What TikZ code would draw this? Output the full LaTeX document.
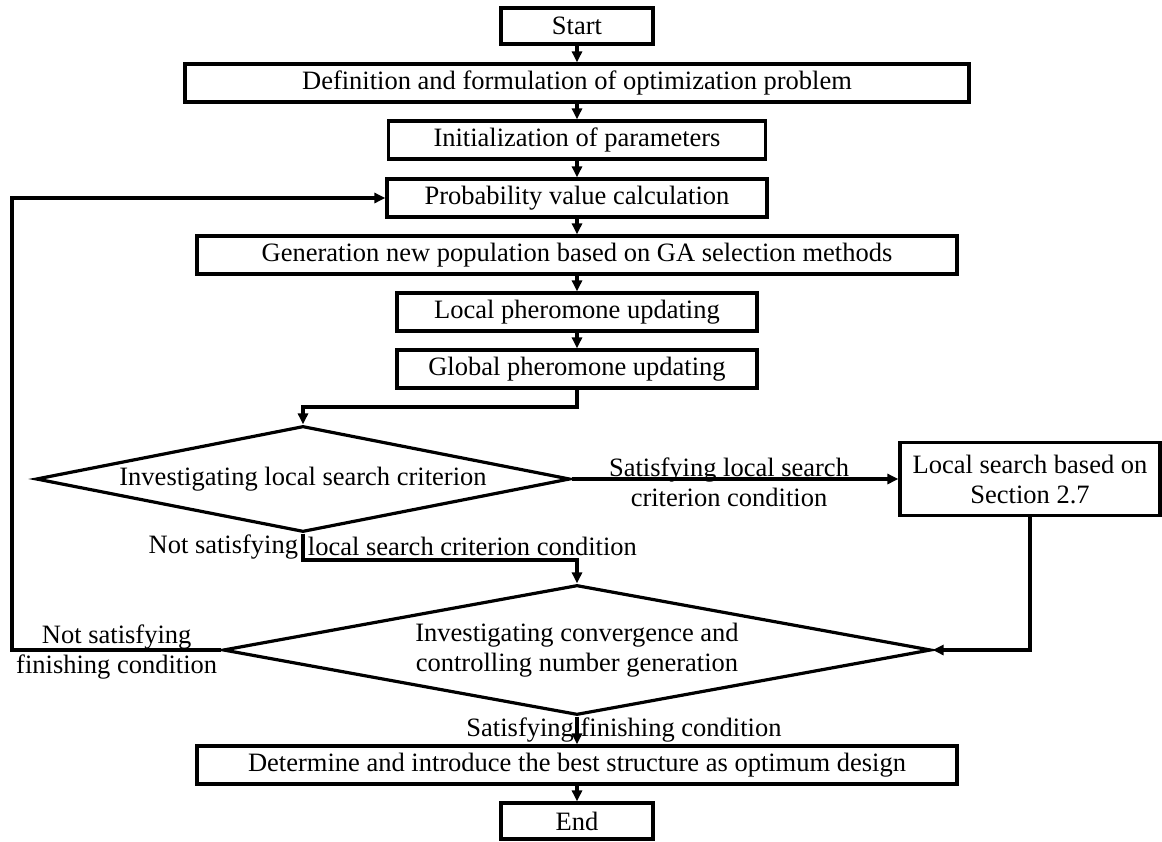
\documentclass[tikz,border=0pt]{standalone}
\usepackage{fontspec}
\setmainfont{Liberation Serif}
\usetikzlibrary{shapes.geometric}
\usetikzlibrary{arrows.meta}

\begin{document}
\begin{tikzpicture}[x=1pt, y=-1pt, line width=3.2pt,
	font=\fontsize{26.5}{30}\selectfont,
	box/.style={draw, rectangle, inner sep=0pt, minimum height=38pt, align=center},
	decision/.style={draw, diamond, inner sep=0pt, align=center},
	>={Triangle[length=11pt, width=10pt]}]
\useasboundingbox (0,0) rectangle (1162,841);
\node (start) [box, minimum width=152pt, minimum height=36pt] at (577,26) {Start};
\node (define) [box, minimum width=784pt] at (577,83) {Definition and formulation of optimization problem};
\node (init) [box, minimum width=377pt] at (577,140) {Initialization of parameters};
\node (prob) [box, minimum width=380pt] at (577,198) {Probability value calculation};
\node (gen) [box, minimum width=760pt] at (577,255) {Generation new population based on GA selection methods};
\node (localph) [box, minimum width=360pt] at (577,312) {Local pheromone updating};
\node (globalph) [box, minimum width=360pt] at (577,369) {Global pheromone updating};
\node (lscheck) [decision, shape aspect=5, minimum width=534pt, minimum height=106pt] at (303,479) {Investigating local search criterion};
\node (lsearch) [box, minimum width=260pt, minimum height=73pt] at (1030,479) {Local search based on\\Section 2.7};
\node (conv) [decision, shape aspect=5.4, minimum width=708pt, minimum height=130pt] at (577,650) {Investigating convergence and\\controlling number generation};
\node (best) [box, minimum width=760pt] at (577,765) {Determine and introduce the best structure as optimum design};
\node (stop) [box, minimum width=152pt, minimum height=36pt] at (577,821) {End};
\coordinate (turn1) at (303,407);
\coordinate (turn2) at (303,560);
\coordinate (turn3) at (12,650);

\path[->]
(start) edge (define)
(define) edge (init)
(init) edge (prob)
(prob) edge (gen)
(gen) edge (localph)
(localph) edge (globalph)
(lscheck) edge node [xshift=-6pt, yshift=-3pt, align=center] {Satisfying local search\\criterion condition} (lsearch)
(conv) edge node [xshift=47pt] {Satisfying finishing condition} (best)
(best) edge (stop)
;
\draw[->] (globalph.south) |- (turn1) -- (lscheck.north);
\draw[->] (lscheck.south) -- node [left] {Not satisfying} node [right] {local search criterion condition} (turn2) -| (conv.north);
\draw[->] (lsearch.south) |- (conv.east);
\draw[->] (conv.west) -- node [yshift=-2pt, align=center] {Not satisfying\\finishing condition} (turn3) |- (prob.west);
\end{tikzpicture}
\end{document}
